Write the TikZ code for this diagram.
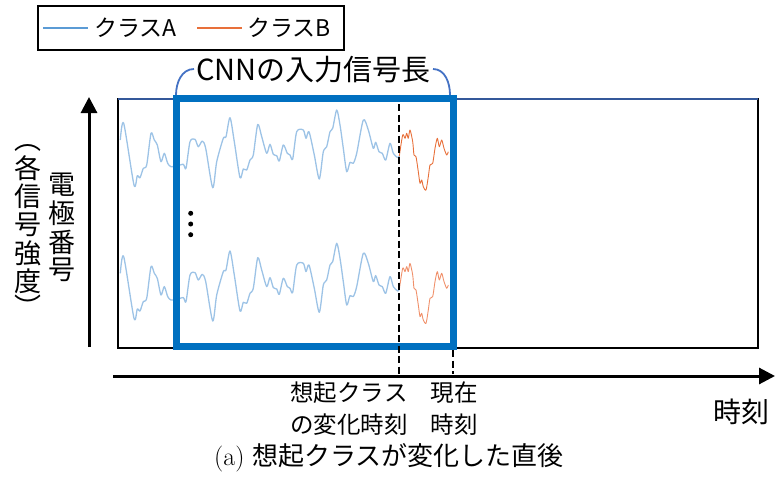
\documentclass[tikz,border=0pt]{standalone}
\usepackage{fontspec}
\newfontfamily\jp{Noto Sans CJK JP}
\usetikzlibrary{arrows.meta}
\definecolor{sigblue}{HTML}{9DC3E6}
\definecolor{legblue}{HTML}{5B9BD5}
\definecolor{sigorange}{HTML}{E8703A}
\definecolor{sigorangelt}{HTML}{F0906A}
\definecolor{cnnblue}{HTML}{0070C0}
\definecolor{bracecol}{HTML}{4472C4}
\definecolor{navyedge}{HTML}{34589A}
\newcommand\wavetopA{plot[smooth,tension=0.45] coordinates {(120.3,140) (123.7,123.3) (134,185) (137.3,175.7) (140,177.7) (143.3,168.3) (146.7,165) (151,133.3) (154.3,140) (157.3,145) (161,161.7) (164.3,153.3) (167.7,163.3) (171,166.7) (177,166) (183.3,164.3) (186,168.3) (190,141.7) (195,139.3) (198.3,146.7) (202.3,141) (205.7,148.3) (212.7,187.7) (216.7,161.7) (223.3,138.3) (226,136.7) (230,117.7) (234.3,141.7) (240,177.7) (243.3,169) (246.7,170) (250,160) (253.3,155) (257.7,124.5) (261.7,136.7) (266.7,153.3) (270,144.3) (273.3,154.3) (276.7,155.7) (279.3,161) (283.3,145) (287.3,153.3) (290,155) (292.7,159) (296.7,131.7) (303.3,130) (306,138.3) (309,131.7) (314.3,155) (319.3,179) (323.3,151.7) (326.7,146.7) (330,131.7) (332.7,128.3) (336.7,110) (340,125) (343.3,148.3) (346.7,171.7) (350,162.3) (353.3,163.3) (356.7,153.3) (363.3,120) (368.3,130) (373.3,148.3) (375.7,142.3) (379,151.7) (382.3,153.3) (385.7,160) (390,143.3) (393.3,153.3) (397.7,157.7) (399.3,156)}}
\newcommand\wavetopB{plot[smooth,tension=0.45] coordinates {(399.3,156) (402.7,135) (405,138.3) (406.7,133.3) (408.3,138.3) (410,130) (412.7,141.7) (414,155) (416,156.7) (418.3,171.7) (420,183.3) (421.7,180) (423.3,186.7) (426,190) (428.3,176.7) (430,165) (432.7,163.3) (435,148.3) (437.3,138.3) (439.3,146.7) (441.7,140) (444,148.3) (446.7,155) (448.3,151.7)}}
\begin{document}
\begin{tikzpicture}[x=1pt,y=-1pt,
  lbl/.style={inner sep=0pt, font={\jp\fontsize{23.5}{28}\selectfont}},
  vlbl/.style={inner sep=0pt, font={\jp\fontsize{27}{30}\selectfont}},
  siga/.style={sigblue, line width=1.3pt, line join=round},
  sigb/.style={sigorange, line width=0.9pt, line join=round},
  dashline/.style={line width=2.6pt, dash pattern=on 7pt off 3.5pt},
  axis/.style={line width=3pt, -{Triangle[width=16pt,length=16pt]}}]
\useasboundingbox (0,0) rectangle (776,477);

% legend
\node[draw, line width=1.4pt, minimum width=306pt, minimum height=44pt, inner sep=0pt] (legend) at (191,28) {};
\coordinate (la1) at (43,27.5); \coordinate (la2) at (88,27.5);
\coordinate (lb1) at (197,27.5); \coordinate (lb2) at (242,27.5);
\draw[legblue, line width=2pt] (la1) -- (la2);
\draw[sigorange, line width=2pt] (lb1) -- (lb2);
\node[inner sep=0pt, anchor=west, font={\jp\fontsize{23}{28}\selectfont}] (legA) at (94,28) {クラスA};
\node[inner sep=0pt, anchor=west, font={\jp\fontsize{23}{28}\selectfont}] (legB) at (247,28) {クラスB};

% main frame
\draw[line width=2.5pt] (118,99) rectangle (758,348);
\draw[navyedge, line width=2.5pt] (118,99) -- (758,99);

% signals
\draw[siga] \wavetopA;
\draw[sigb] \wavetopB;
\begin{scope}[shift={(0,133.3)}]
\draw[siga] \wavetopA;
\draw[sigorangelt, line width=0.9pt, line join=round] \wavetopB;
\end{scope}

% dots
\foreach \yy in {213.3,224,234.7} \fill (190.7,\yy) circle (2.5pt);

% CNN input box
\draw[cnnblue, line width=7pt] (176,98) rectangle (453,346);
\coordinate (bl) at (176,95); \coordinate (br) at (450,95);
\coordinate (bl2) at (194,69); \coordinate (br2) at (433,69);
\draw[bracecol, line width=1.8pt] (bl) to[out=90,in=180] (bl2);
\draw[bracecol, line width=1.8pt] (br2) to[out=0,in=90] (br);
\node[inner sep=0pt, font={\jp\fontsize{29}{32}\selectfont}] (cnn) at (313.5,70) {CNNの入力信号長};

% dashed time markers
\coordinate (d1a) at (399,104); \coordinate (d1b) at (399,374);
\coordinate (d2a) at (453,350); \coordinate (d2b) at (453,374);
\draw[dashline] (d1a) -- (d1b);
\draw[dashline] (d2a) -- (d2b);

% axes
\coordinate (o1) at (113,376); \coordinate (xe) at (775,376);
\coordinate (o2) at (89,347); \coordinate (ye) at (89,97);
\draw[axis] (o1) -- (xe);
\draw[axis] (o2) -- (ye);

% labels under axis
\node[lbl] (t1a) at (349,393) {想起クラス};
\node[lbl] (t1b) at (349,425) {の変化時刻};
\node[lbl] (t2a) at (454,393) {現在};
\node[lbl] (t2b) at (454,425) {時刻};
\node[inner sep=0pt, font={\jp\fontsize{28}{30}\selectfont}] (tx) at (741,412) {時刻};

% vertical axis labels
\node[vlbl] (v1) at (62,185) {電};
\node[vlbl] (v2) at (62,213.5) {極};
\node[vlbl] (v3) at (62,242) {番};
\node[vlbl] (v4) at (62,270) {号};
\node[vlbl] (p1) at (28,148) {︵};
\node[vlbl] (w1) at (28,168) {各};
\node[vlbl] (w2) at (28,196.5) {信};
\node[vlbl] (w3) at (28,225) {号};
\node[vlbl] (w4) at (28,253.5) {強};
\node[vlbl] (w5) at (28,281.5) {度};
\node[vlbl] (p2) at (28,306) {︶};

% caption
\node[inner sep=0pt, font={\fontsize{26}{30}\selectfont}] (cap) at (389,458) {(a) {\jp 想起クラスが変化した直後}};
\end{tikzpicture}
\end{document}
